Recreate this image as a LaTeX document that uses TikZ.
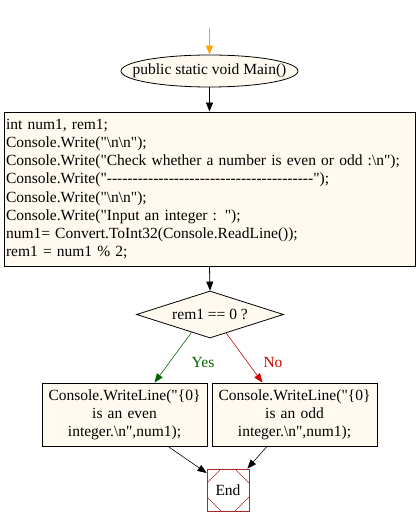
\documentclass[tikz,border=0pt]{standalone}
\usepackage{fontspec}
\setmainfont{Liberation Serif}[Ligatures=TeXOff]
\usetikzlibrary{arrows.meta,shapes.geometric,calc}
\definecolor{nodefill}{RGB}{255,250,240}
\definecolor{endcol}{RGB}{165,42,42}
\definecolor{yescol}{RGB}{0,100,0}
\definecolor{nocol}{RGB}{204,0,0}
\definecolor{startcol}{RGB}{255,165,0}
\tikzset{
  txt/.style={font=\fontsize{15.5}{18.2}\selectfont},
  base/.style={draw=black, fill=nodefill, line width=0.8pt, inner sep=0pt, txt},
  ellnode/.style={base, ellipse, minimum width=177pt, minimum height=32pt},
  codebox/.style={base, rectangle, minimum width=411pt, minimum height=154pt, text width=407pt, inner xsep=2pt, align=left},
  decnode/.style={base, diamond, minimum width=147pt, minimum height=47pt, aspect=3.1},
  outbox/.style={base, rectangle, minimum width=165pt, minimum height=63pt, text width=165pt, align=center},
  endnode/.style={draw=endcol, fill=white, line width=0.8pt, rectangle, minimum width=42pt, minimum height=42pt, inner sep=0pt, txt,
    path picture={
      \draw[endcol, line width=0.5pt]
        ([yshift=-14pt]path picture bounding box.north west) -- ([xshift=14pt]path picture bounding box.north west)
        ([yshift=-14pt]path picture bounding box.north east) -- ([xshift=-14pt]path picture bounding box.north east)
        ([yshift=14pt]path picture bounding box.south west) -- ([xshift=14pt]path picture bounding box.south west)
        ([yshift=14pt]path picture bounding box.south east) -- ([xshift=-14pt]path picture bounding box.south east);
    }},
  edge/.style={-{Triangle[length=9pt,width=7pt]}, line width=0.8pt, draw=black},
  thinedge/.style={-{Triangle[length=9pt,width=7pt]}, line width=0.5pt},
  lbl/.style={font=\fontsize{15.5}{18}\selectfont}
}
\begin{document}
\begin{tikzpicture}[x=1pt,y=1pt]
\useasboundingbox (0,0) rectangle (417,-526);
\coordinate (start) at (209.5,-28);
\node[ellnode] (main) at (209.5,-71) {\makebox[0pt]{public static void Main()}};
\node[codebox] (code) at (209.5,-189) {int num1, rem1;\\
Console.Write("\textbackslash n\textbackslash n");\\
Console.Write("Check whether a number is even or odd :\textbackslash n");\\
Console.Write("----------------------------------------");\\
Console.Write("\textbackslash n\textbackslash n");\\
Console.Write("Input an integer : ");\\
num1= Convert.ToInt32(Console.ReadLine());\\
rem1 = num1 \% 2;};
\node[decnode] (dec) at (210,-314.5) {\makebox[0pt]{rem1 == 0 ?}};
\node[outbox] (even) at (124.5,-414.5) {Console.WriteLine("\{0\}\\is an even\\integer.\textbackslash n",num1);};
\node[outbox] (odd) at (294.5,-414.5) {Console.WriteLine("\{0\}\\is an odd\\integer.\textbackslash n",num1);};
\node[endnode] (end) at (228,-490) {End};

\draw[edge, draw=startcol, fill=startcol] (start) -- (main.north);
\draw[edge, fill=black] (main.south) -- (code.north);
\draw[edge, fill=black] (code.south) -- (dec.north);
\draw[thinedge, draw=yescol, fill=yescol] ($(dec.south)!0.25!(dec.west)$) -- ([xshift=30pt]even.north);
\draw[thinedge, draw=nocol, fill=nocol] ($(dec.south)!0.22!(dec.east)$) -- ([xshift=-32pt]odd.north);
\node[lbl, text=yescol] (yes) at (203,-362) {Yes};
\node[lbl, text=nocol] (no) at (273,-362) {No};
\draw[thinedge, fill=black] ([xshift=43.5pt]even.south) -- ([yshift=17pt]end.west);
\draw[thinedge, fill=black] ([xshift=-27.5pt]odd.south) -- ([xshift=-2pt]end.north east);
\end{tikzpicture}
\end{document}
